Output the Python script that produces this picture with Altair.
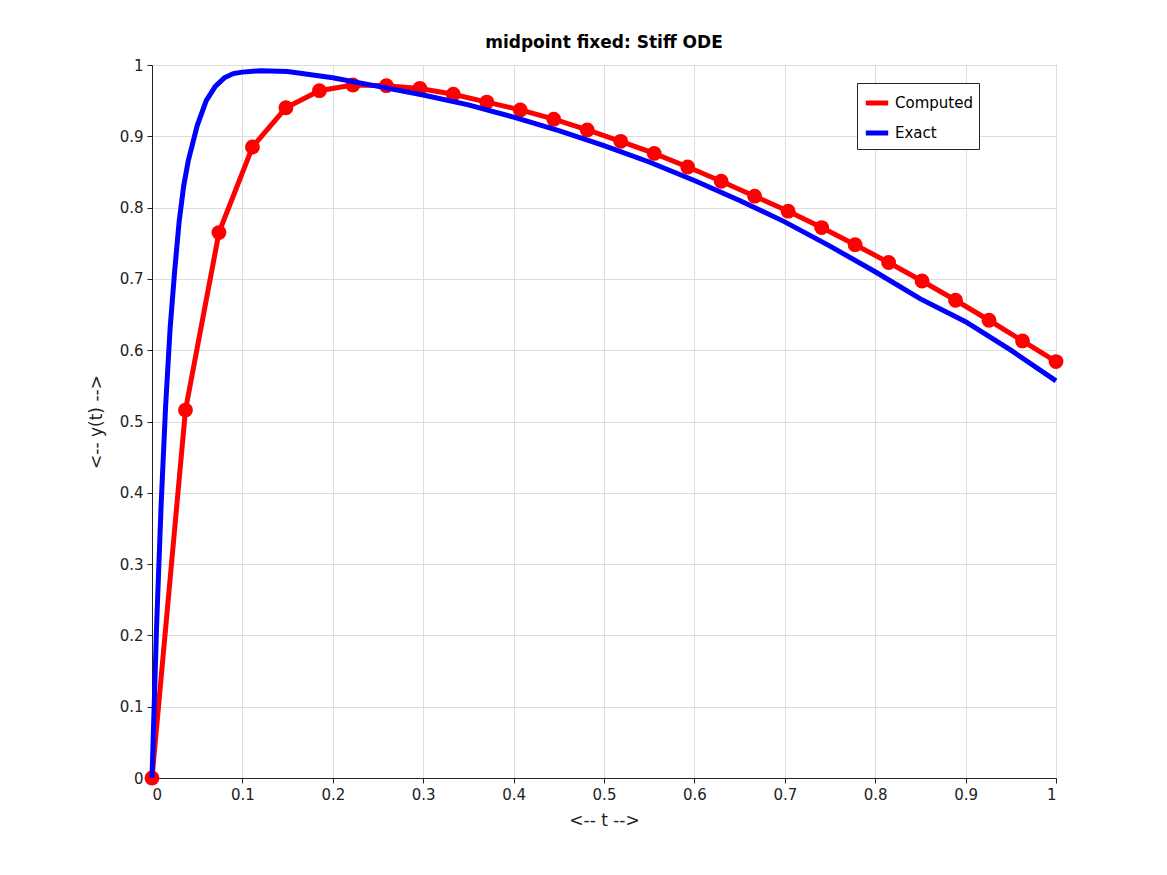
import altair as alt
import pandas as pd

# Computed (midpoint fixed step) values
t_comp = [0, 1/27, 2/27, 3/27, 4/27, 5/27, 6/27, 7/27, 8/27, 9/27, 10/27, 11/27, 12/27, 13/27,
          14/27, 15/27, 16/27, 17/27, 18/27, 19/27, 20/27, 21/27, 22/27, 23/27, 24/27, 25/27, 26/27, 1]
y_comp = [0, 0.516, 0.765, 0.885, 0.940, 0.964, 0.972, 0.971, 0.967, 0.959, 0.948, 0.937, 0.924, 0.909,
          0.893, 0.876, 0.857, 0.837, 0.816, 0.795, 0.772, 0.748, 0.723, 0.697, 0.670, 0.642, 0.613, 0.584]

# Exact solution values
t_exact = [0, 0.005, 0.01, 0.015, 0.02, 0.025, 0.03, 0.035, 0.04, 0.05, 0.06, 0.07, 0.08, 0.09, 0.1,
           0.12, 0.15, 0.2, 0.25, 0.3, 0.35, 0.4, 0.45, 0.5, 0.55, 0.6, 0.65, 0.7, 0.75, 0.8,
           0.85, 0.9, 0.95, 1.0]
y_exact = [0, 0.21, 0.38, 0.52, 0.63, 0.71, 0.78, 0.83, 0.865, 0.915, 0.95, 0.97, 0.982, 0.988, 0.99,
           0.992, 0.991, 0.982, 0.970, 0.958, 0.944, 0.927, 0.908, 0.887, 0.864, 0.838, 0.810, 0.780,
           0.746, 0.710, 0.672, 0.640, 0.600, 0.557]

comp = pd.DataFrame({"t": t_comp, "y": y_comp, "series": "Computed"})
exact = pd.DataFrame({"t": t_exact, "y": y_exact, "series": "Exact"})

ticks = [i / 10 for i in range(11)]
x = alt.X("t:Q", scale=alt.Scale(domain=[0, 1], nice=False),
          axis=alt.Axis(values=ticks, format="~g", title="<-- t -->", grid=True))
y = alt.Y("y:Q", scale=alt.Scale(domain=[0, 1], nice=False),
          axis=alt.Axis(values=ticks, format="~g", title="<-- y(t) -->", grid=True))
color = alt.Color("series:N",
                  scale=alt.Scale(domain=["Computed", "Exact"], range=["#ff0000", "#0000ff"]),
                  legend=alt.Legend(title=None, orient="none", legendX=705, legendY=18,
                                    symbolType="stroke", symbolStrokeWidth=5, symbolSize=500,
                                    labelFontSize=15, fillColor="white", strokeColor="#222",
                                    padding=6, rowPadding=6))

comp_line = alt.Chart(comp).mark_line(strokeWidth=5).encode(x=x, y=y, color=color)
comp_pts = alt.Chart(comp).mark_point(filled=True, size=220, opacity=1).encode(
    x=x, y=y, color=alt.Color("series:N", scale=alt.Scale(domain=["Computed", "Exact"], range=["#ff0000", "#0000ff"]), legend=None))
exact_line = alt.Chart(exact).mark_line(strokeWidth=5).encode(x=x, y=y, color=color)

chart = (comp_line + comp_pts + exact_line).properties(
    width=904, height=713,
    title=alt.Title("midpoint fixed: Stiff ODE", fontSize=17, fontWeight="bold", offset=6),
    autosize=alt.AutoSizeParams(type="none"),
    padding={"left": 144, "top": 57, "right": 100, "bottom": 90},
).configure(font="DejaVu Sans").configure_view(stroke="#222", strokeWidth=1).configure_axis(
    labelFontSize=15, titleFontSize=17, titleFontWeight="normal", labelColor="#222", titleColor="#222",
    gridColor="#ddd", domainColor="#222", tickColor="#222", labelPadding=4,
).configure_axisX(titlePadding=10).configure_axisY(titlePadding=14)

chart.save("out.html", embed_options={"renderer": "svg", "actions": False})
